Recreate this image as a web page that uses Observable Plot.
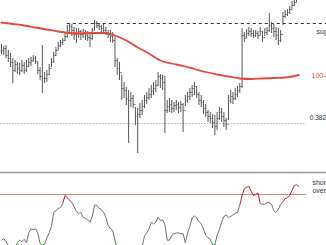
<!DOCTYPE html>
<html><head><meta charset="utf-8">
<script src="https://cdn.jsdelivr.net/npm/d3@7"></script>
<script src="https://cdn.jsdelivr.net/npm/@observablehq/plot@0.6"></script>
<style>
html,body{margin:0;padding:0;background:#fff;overflow:hidden}
#chart svg{display:block}
</style></head><body><div id="chart"></div>
<script>
// OHLC bars (price units), open = previous close
const highs=[156,154,155,150,147,142,140,138,137,140,138,140,142,143,145,144,138,133,155,128,130,136,142,148,153,158,160,162,167,175,177,176,173,172,172,170,171,170,169,168,172,180,179,177,175,176,173,170,170,168,165,142,138,125,118,113,110,108,105,93,92,97,100,105,108,112,115,118,120,128,126,125,124,100,102,100,98,100,98,99,97,105,108,112,115,118,114,108,105,100,96,90,88,86,85,88,93,92,88,82,105,110,108,112,114,117,172,168,171,173,172,170,170,169,173,169,172,173,187,178,176,173,172,170,188,190,191,194,199,202,206,208];
const lows=[146,145,142,138,133,117,128,126,125,128,126,128,133,134,138,136,126,120,107,117,118,125,133,138,144,150,153,155,159,162,167,164,160,157,162,160,162,160,159,153,160,170,172,170,167,166,165,162,158,157,133,125,120,100,102,95,57,93,92,75,47,82,85,92,96,100,102,105,108,114,112,110,67,87,88,87,88,90,87,88,68,94,97,100,103,105,102,95,93,86,83,78,77,72,65,70,80,78,73,70,80,97,96,100,103,107,112,158,162,164,163,162,163,161,165,158,164,165,168,167,163,160,155,158,175,182,184,186,191,194,198,200];
const closes=[150,152,145,142,138,130,136,132,130,135,130,134,138,140,142,139,130,124,122,122,126,132,138,145,150,155,158,160,164,170,174,170,166,167,169,166,168,165,163,162,170,177,175,174,172,170,168,166,164,160,140,132,128,112,110,102,100,102,96,84,86,90,94,100,103,106,110,112,115,124,122,118,90,94,96,92,95,96,93,96,90,100,104,108,112,114,106,100,98,92,88,84,82,78,74,82,88,84,80,76,100,104,102,106,110,114,165,162,167,169,167,165,167,165,169,163,168,170,175,172,169,165,160,166,184,186,188,191,195,198,203,205];

// 100-day moving average (bar index, price)
const maIndex=[0,5,10,15,20,25,30,35,40,45,50,55,60,65,70,75,80,85,90,95,100,105,110,115,120,125,131];
const maValues=[178,176.5,175,173,171,169,167.5,167,167.5,167.5,165,160,153,147,140,137,134.5,131.5,128.5,126,124,122,121.5,122,122.5,123,125.5];

// oscillator (lower panel)
const oscValues=[24,26,22,18,14,11,14,21,24,22,25,21,33,38,37,38,33,20,18,19,27,33,41,58,60,63,64,69,79,76,73,70,65,59,57,58,52,51,49,46,53,67,67,63,62,58,52,42,38,36,24,14,10,6,4,5,3,4,2,4,7,11,16,29,33,38,46,44,46,52,48,49,43,24,24,30,32,33,33,32,32,21,33,41,51,54,51,47,44,38,30,27,25,19,18,30,37,46,53,55,52,53,55,57,58,67,79,87,89,90,84,79,80,82,69,68,68,70,70,68,60,58,62,68,71,75,76,79,85,91,92,90];

const supportLevel=177, fibLevel=77, overbought=80, redZone=70, greenZone=19;
const labelSupport="support", labelMA="100-Day MA", labelFib="0.382", labelOsc1="short-term", labelOsc2="overbought";

const xDomain=[-0.44,143.2];
const font="Liberation Sans, Arial, sans-serif";

const bars=closes.map((c,i)=>({i,high:highs[i],low:lows[i],close:c,open:i?closes[i-1]:c}));
const ma=maIndex.map((i,k)=>({i,v:maValues[k]}));
const segs=[];
for(let i=0;i<oscValues.length-1;i++){
  const a=oscValues[i],b=oscValues[i+1],m=(a+b)/2;
  segs.push({x1:i,x2:i+1,y1:a,y2:b,kind:m>=redZone?"high":(m<=greenZone?"low":"mid")});
}

const topPlot=Plot.plot({
  width:326,height:171,marginTop:0,marginBottom:0,marginLeft:0,marginRight:0,
  style:{fontFamily:font,background:"transparent"},
  x:{domain:xDomain,axis:null},
  y:{domain:[29,200],axis:null},
  marks:[
    Plot.ruleY([{y:fibLevel,x1:-0.44,x2:134.5}],{y:"y",x1:"x1",x2:"x2",stroke:"#b5b5b5",strokeDasharray:"1.5,1.5"}),
    Plot.ruleY([{y:supportLevel,x1:29,x2:143.2}],{y:"y",x1:"x1",x2:"x2",stroke:"#333",strokeDasharray:"3,3"}),
    Plot.ruleX(bars,{x:"i",y1:"low",y2:"high",stroke:"#555",strokeWidth:1,clip:true}),
    Plot.link(bars,{x1:d=>d.i-0.4,x2:"i",y1:"open",y2:"open",stroke:"#555",clip:true}),
    Plot.link(bars,{x1:"i",x2:d=>d.i+0.4,y1:"close",y2:"close",stroke:"#555",clip:true}),
    Plot.line(ma,{x:"i",y:"v",curve:"monotone-x",stroke:"#e5473d",strokeWidth:1.8}),
    Plot.text([{t:labelSupport,x:138.8,y:169}],{x:"x",y:"y",text:"t",textAnchor:"start",fontSize:7,fill:"#333"}),
    Plot.text([{t:labelMA,x:136.6,y:125}],{x:"x",y:"y",text:"t",textAnchor:"start",fontSize:7,fill:"#e5473d"}),
    Plot.text([{t:labelFib,x:135.8,y:83}],{x:"x",y:"y",text:"t",textAnchor:"start",fontSize:6.6,fill:"#333"})
  ]
});

const botPlot=Plot.plot({
  width:326,height:74,marginTop:1,marginBottom:0,marginLeft:0,marginRight:0,
  style:{fontFamily:font,background:"transparent"},
  x:{domain:xDomain,axis:null},
  y:{domain:[17.55,106.94],axis:null},
  color:{domain:["mid","high","low"],range:["#707070","#b8262b","#2e7d32"]},
  marks:[
    Plot.frame({anchor:"top",stroke:"#9a9a9a",strokeWidth:1.5}),
    Plot.ruleY([{y:overbought,x1:-0.44,x2:134.5}],{y:"y",x1:"x1",x2:"x2",stroke:"#f08080",strokeWidth:1}),
    Plot.link(segs,{x1:"x1",x2:"x2",y1:"y1",y2:"y2",stroke:"kind",strokeWidth:1,clip:true}),
    Plot.text([{t:labelOsc1,x:137,y:94.7}],{x:"x",y:"y",text:"t",textAnchor:"start",fontSize:7,fill:"#333"}),
    Plot.text([{t:labelOsc2,x:137,y:84.9}],{x:"x",y:"y",text:"t",textAnchor:"start",fontSize:7,fill:"#333"})
  ]
});

const el=document.getElementById("chart");
el.appendChild(topPlot);
el.appendChild(botPlot);
</script></body></html>
